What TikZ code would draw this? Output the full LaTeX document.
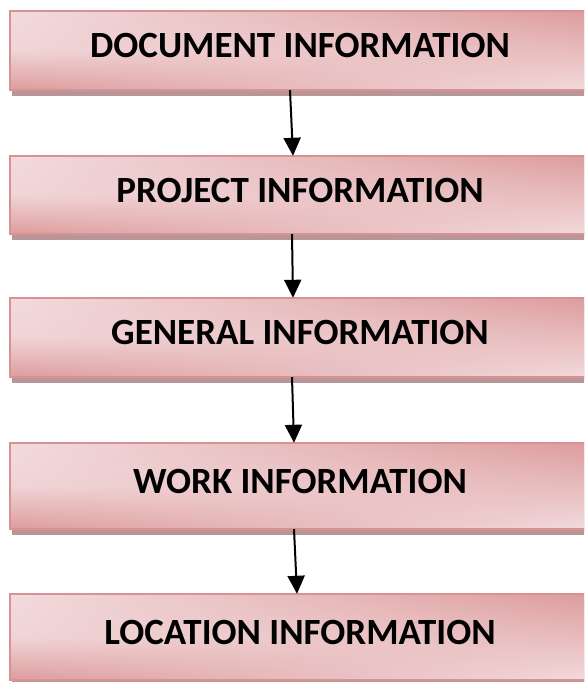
\documentclass[tikz,border=0pt]{standalone}
\usepackage{fontspec}
\setmainfont{Carlito}
\usetikzlibrary{arrows.meta,fadings,shadows}

\definecolor{boxlight}{RGB}{243,219,221}
\definecolor{boxdark}{RGB}{221,156,157}
\definecolor{boxedge}{RGB}{216,146,148}
\definecolor{boxshadow}{RGB}{184,150,152}

\tikzfading[name=fadeleft, left color=transparent!100, right color=transparent!0]

\begin{document}
\begin{tikzpicture}[x=1pt,y=-1pt,
  infobox/.style={rectangle, minimum width=580pt, inner sep=0pt,
    text height=24pt, text depth=10pt,
    font=\fontsize{37}{40}\selectfont\bfseries,
    top color=boxlight, bottom color=boxdark, middle color=boxlight!90!boxdark,
    drop shadow={shadow xshift=2pt, shadow yshift=-6pt, fill=boxshadow, opacity=1},
    postaction={shade, top color=boxdark, bottom color=boxlight, path fading=fadeleft},
    postaction={draw=boxedge, line width=1.3pt}},
  flow/.style={line width=2pt, -{Triangle[length=18pt,width=17pt]}}]
\useasboundingbox (0,0) rectangle (584,682);
\clip (0,0) rectangle (584,682);
% the five stages, top to bottom
\node[infobox, minimum height=79pt] (doc) at (300,50.5) {DOCUMENT INFORMATION};
\node[infobox, minimum height=78pt] (proj) at (300,195) {PROJECT INFORMATION};
\node[infobox, minimum height=79pt] (gen) at (300,337.5) {GENERAL INFORMATION};
\node[infobox, minimum height=86pt] (work) at (300,486) {WORK INFORMATION};
\node[infobox, minimum height=86pt] (loc) at (300,637) {LOCATION INFORMATION};
% arrows between stages
\draw[flow] ([xshift=-10pt]doc.south) -- ([xshift=-7pt]proj.north);
\draw[flow] ([xshift=-8pt]proj.south) -- ([xshift=-7pt]gen.north);
\draw[flow] ([xshift=-8pt]gen.south) -- ([xshift=-6pt]work.north);
\draw[flow] ([xshift=-6pt]work.south) -- ([xshift=-3pt]loc.north);
\end{tikzpicture}
\end{document}
